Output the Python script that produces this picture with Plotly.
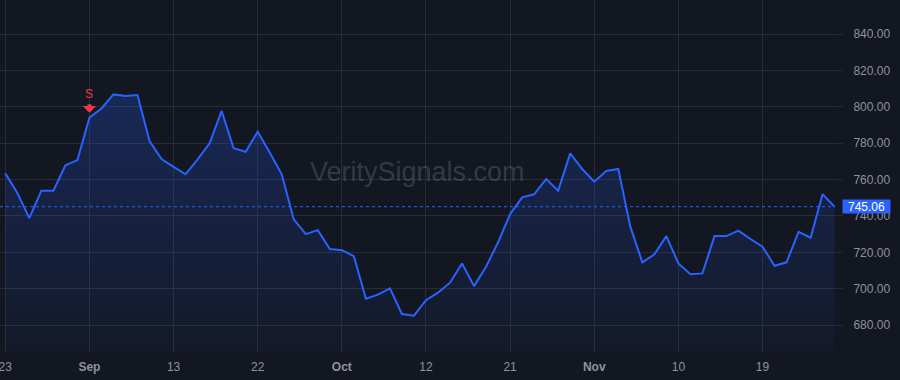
import plotly.graph_objects as go

# Trading-day closes, 23 Aug 2021 .. 29 Nov 2021 (70 sessions)
prices = [763.4, 752.6, 738.8, 753.9, 753.9, 767.8, 770.7, 794.0, 799.1, 806.8,
          805.9, 806.5, 781.2, 771.3, 767.0, 762.9, 771.1, 779.9, 797.7, 777.2,
          775.3, 786.3, 774.8, 762.9, 738.1, 730.0, 732.2, 721.8, 721.2, 717.9,
          694.5, 696.7, 700.2, 686.1, 685.2, 693.7, 697.8, 703.3, 713.9, 701.4,
          712.1, 725.5, 741.0, 750.2, 751.9, 760.3, 753.9, 774.4, 765.8, 758.8,
          764.7, 765.8, 734.1, 714.5, 718.9, 728.9, 713.9, 707.9, 708.4, 728.9,
          728.9, 731.9, 727.3, 723.1, 712.6, 714.5, 731.3, 728.0, 752.0, 745.06]
idx = list(range(len(prices)))

tick_idx = [0, 7, 14, 21, 28, 35, 42, 49, 56, 63]
tick_text = ["23", "<b>Sep</b>", "13", "22", "<b>Oct</b>", "12", "21", "<b>Nov</b>", "10", "19"]

signal_idx = [7]
signal_text = ["S"]

BG = "#131722"
GRID = "#282c37"
BLUE = "#2962ff"
RED = "#f23645"
LABEL = "#8f929b"
FONT = "Liberation Sans, Arial, sans-serif"

fig = go.Figure()
fig.add_trace(go.Scatter(
    x=idx, y=prices, mode="lines",
    line=dict(color=BLUE, width=2),
    fill="tozeroy",
    fillgradient=dict(type="vertical", start=665, stop=810,
                      colorscale=[[0, "rgba(41,98,255,0.03)"], [1, "rgba(41,98,255,0.24)"]]),
    hoverinfo="skip", showlegend=False,
))

last = prices[-1]
fig.add_shape(type="line", xref="paper", x0=0, x1=1, yref="y", y0=last, y1=last,
              line=dict(color=BLUE, width=1, dash="dot"))

fig.add_annotation(xref="paper", x=1.0085, xanchor="left", yref="y", y=last,
                   text=f"{last:.2f}", showarrow=False, bgcolor=BLUE,
                   font=dict(color="white", size=12, family=FONT),
                   width=47, height=13, borderpad=0, align="center")

for si, st in zip(signal_idx, signal_text):
    # arrow
    fig.add_annotation(x=si, y=prices[si], text="", showarrow=True,
                       ax=0, ay=-15, arrowcolor=RED, arrowwidth=4, arrowhead=1,
                       arrowsize=0.56, standoff=5)
    # label
    fig.add_annotation(x=si, y=prices[si], text=st, showarrow=False, yshift=24,
                       font=dict(color=RED, size=12, family=FONT))

fig.add_annotation(xref="paper", yref="paper", x=0.5, y=0.51, text="VeritySignals.com",
                   showarrow=False,
                   font=dict(color="rgba(150,155,170,0.27)", size=27, family=FONT))

fig.update_layout(
    width=900, height=380,
    margin=dict(l=0, r=65, t=0, b=28),
    paper_bgcolor=BG, plot_bgcolor=BG,
    font=dict(family=FONT, size=12, color=LABEL),
    xaxis=dict(range=[-0.44, 69.03], tickvals=tick_idx, ticktext=tick_text,
               showgrid=True, gridcolor=GRID, gridwidth=1, zeroline=False,
               showline=False, ticks="", ticklabelstandoff=6,
               ticklabeloverflow="allow",
               tickfont=dict(size=12, color=LABEL)),
    yaxis=dict(range=[665.2, 858.7], side="right", dtick=20, tick0=680,
               tickformat=".2f", showgrid=True, gridcolor=GRID, gridwidth=1,
               zeroline=False, showline=False, ticks="outside", ticklen=7,
               tickcolor=GRID, ticklabelstandoff=8,
               tickfont=dict(size=12, color=LABEL)),
)

fig.write_html("out.html")
